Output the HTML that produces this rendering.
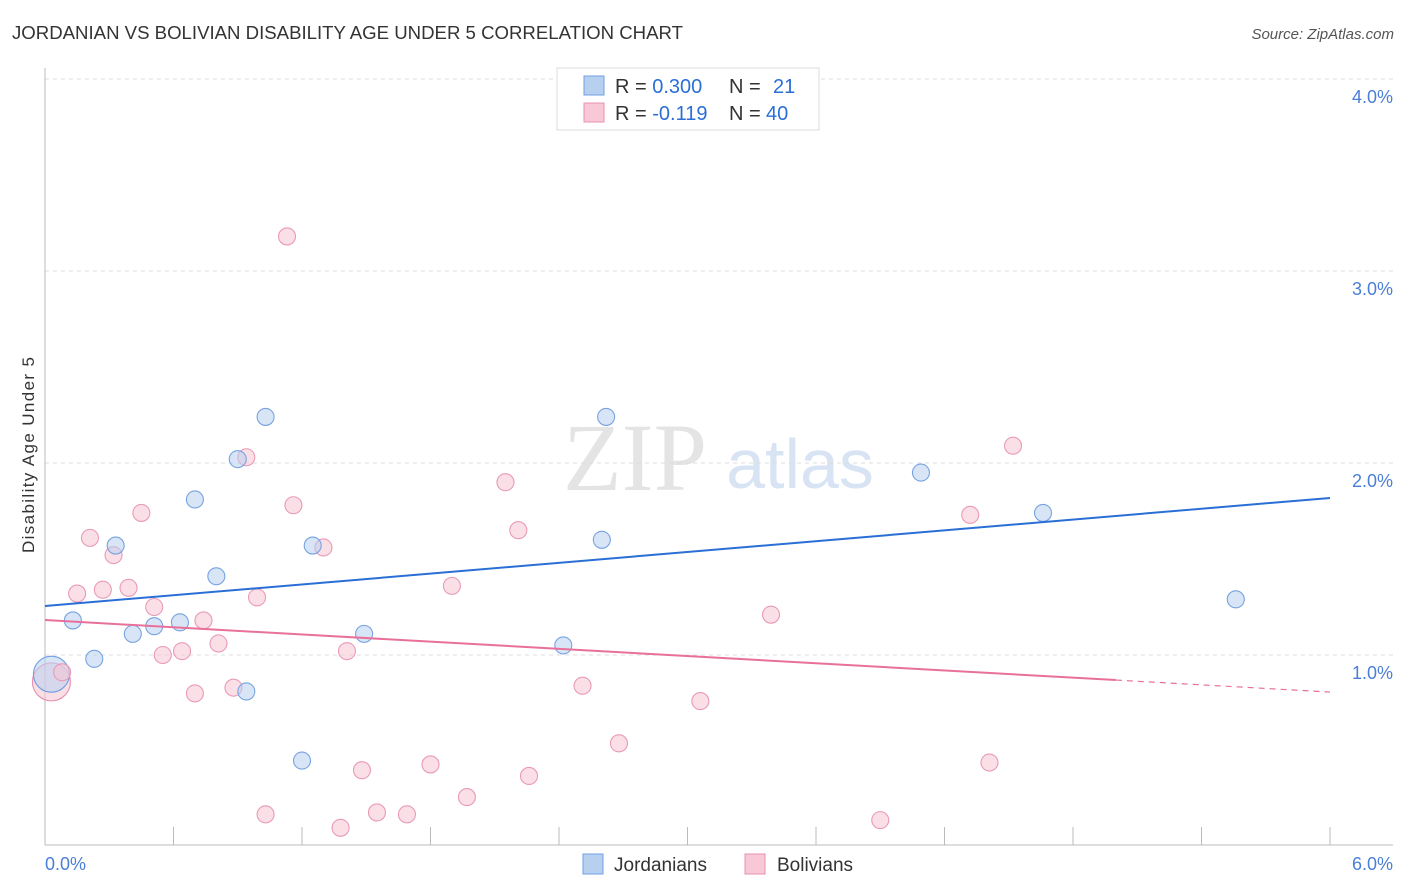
<!DOCTYPE html>
<html><head><meta charset="utf-8"><style>
body{margin:0;background:#fff;font-family:"Liberation Sans",sans-serif;}
svg{display:block}
</style></head><body>
<svg id="c" width="1406" height="892" xmlns="http://www.w3.org/2000/svg">
<text x="12" y="39" font-size="18" fill="#333" textLength="671" lengthAdjust="spacingAndGlyphs">JORDANIAN VS BOLIVIAN DISABILITY AGE UNDER 5 CORRELATION CHART</text>
<text x="1394" y="39" font-size="15" fill="#555" font-style="italic" text-anchor="end">Source: ZipAtlas.com</text>
<text x="635" y="490" font-size="96" fill="#e4e4e4" font-family="Liberation Serif,serif" text-anchor="middle">ZIP</text>
<text x="800" y="488" font-size="70" fill="#d8e4f4" text-anchor="middle">atlas</text>
<g id="grid"></g>
<g id="axes"></g>
<g id="marks"></g>
<text transform="translate(34,455) rotate(-90)" font-size="17" fill="#333" text-anchor="middle" textLength="196">Disability Age Under 5</text>
<text x="45" y="870" font-size="18" fill="#4a7fd8">0.0%</text>
<text x="1393" y="870" font-size="18" fill="#4a7fd8" text-anchor="end">6.0%</text>
<g>
<rect x="557" y="68" width="262" height="62" fill="#fff" stroke="#ddd"/>
<rect x="584" y="76" width="20" height="19" fill="#b8d0f0" stroke="#6f9fe0"/>
<rect x="584" y="103" width="20" height="19" fill="#f8c8d6" stroke="#e890b0"/>
<text x="615" y="93" font-size="20" fill="#333">R = <tspan fill="#2a6fd6">0.300</tspan><tspan x="729">N = </tspan><tspan x="773" fill="#2a6fd6">21</tspan></text>
<text x="615" y="120" font-size="20" fill="#333">R = <tspan fill="#2a6fd6">-0.119</tspan><tspan x="729">N = </tspan><tspan x="766" fill="#2a6fd6">40</tspan></text>
</g>
<g>
<rect x="583" y="854" width="20" height="20" fill="#b8d0f0" stroke="#6f9fe0"/>
<text x="614" y="871" font-size="19" fill="#333">Jordanians</text>
<rect x="745" y="854" width="20" height="20" fill="#f8c8d6" stroke="#e890b0"/>
<text x="777" y="871" font-size="19" fill="#333">Bolivians</text>
</g>
</svg>
<script>
const jorX=[0.13,0.23,0.33,0.41,0.51,0.63,0.70,0.80,0.90,0.94,1.03,1.20,1.25,1.49,2.42,2.60,2.62,4.09,4.66,5.56];
const jorY=[1.18,0.98,1.57,1.11,1.15,1.17,1.81,1.41,2.02,0.81,2.24,0.45,1.57,1.11,1.05,1.60,2.24,1.95,1.74,1.29];
const bolX=[0.08,0.15,0.21,0.27,0.32,0.39,0.45,0.51,0.55,0.64,0.70,0.74,0.81,0.88,0.94,0.99,1.03,1.13,1.16,1.30,1.38,1.41,1.48,1.55,1.69,1.80,1.90,1.97,2.15,2.21,2.26,2.51,2.68,3.06,3.39,3.90,4.32,4.41,4.52];
const bolY=[0.91,1.32,1.61,1.34,1.52,1.35,1.74,1.25,1.00,1.02,0.80,1.18,1.06,0.83,2.03,1.30,0.17,3.18,1.78,1.56,0.10,1.02,0.40,0.18,0.17,0.43,1.36,0.26,1.90,1.65,0.37,0.84,0.54,0.76,1.21,0.14,1.73,0.44,2.09];
const bigX=[0.03,0.03];
const bigY=[0.90,0.86];
const jorTrend=[1.255,1.818];
const bolTrend=[1.182,0.807];
const yTicks=[1,2,3,4];
const X=v=>45+v/6*1285;
const Y=v=>847-v*192;
const NS="http://www.w3.org/2000/svg";
function mk(p,t,a){const e=document.createElementNS(NS,t);for(const k in a)e.setAttribute(k,a[k]);p.appendChild(e);return e;}
const grid=document.getElementById('grid'),axes=document.getElementById('axes'),marks=document.getElementById('marks');
yTicks.forEach(t=>{
 const l=mk(grid,'line',{x1:45,x2:1393,y1:Y(t),y2:Y(t),stroke:'#ddd','stroke-dasharray':'4,4'});
 
 
 const tx=mk(grid,'text',{x:1393,y:Y(t)+24,'font-size':18,fill:'#4a7fd8','text-anchor':'end'});
 tx.textContent=t.toFixed(1)+'%';
 
 
});
const xa=mk(axes,'line',{x1:45,x2:1393,y1:845,y2:845,stroke:'#bbb'});


const ya=mk(axes,'line',{x1:45,x2:45,y1:68,y2:845,stroke:'#bbb'});


for(let i=0;i<=10;i++){const v=i*0.6;
 const tk=mk(axes,'line',{x1:X(v),x2:X(v),y1:827,y2:845,stroke:'#bbb'});
 
 
}
function dot(x,y,r,f,s,n){const c=mk(marks,'circle',{cx:X(x),cy:Y(y),r:r,fill:f,'fill-opacity':0.55,stroke:s,'stroke-width':1.1});
 
 }
dot(bigX[1],bigY[1],19,'#f8c4d4','#e890b0','bolivian-point-large');
dot(bigX[0],bigY[0],18,'#b8d0f0','#6f9fe0','jordanian-point-large');
bolX.forEach((x,i)=>dot(x,bolY[i],8.5,'#f8c4d4','#e99ab8','bolivian-point'));
jorX.forEach((x,i)=>dot(x,jorY[i],8.5,'#b8d0f0','#77a3e0','jordanian-point'));
const jl=mk(marks,'line',{x1:X(0),y1:Y(jorTrend[0]),x2:X(6),y2:Y(jorTrend[1]),stroke:'#2a6fd6','stroke-width':2});


const bm=bolTrend[0]+(bolTrend[1]-bolTrend[0])*5/6;
const bl=mk(marks,'line',{x1:X(0),y1:Y(bolTrend[0]),x2:X(5),y2:Y(bm),stroke:'#e8709a','stroke-width':2});


const bd=mk(marks,'line',{x1:X(5),y1:Y(bm),x2:X(6),y2:Y(bolTrend[1]),stroke:'#e8709a','stroke-width':1.2,'stroke-dasharray':'6,5'});


</script>
</body></html>
